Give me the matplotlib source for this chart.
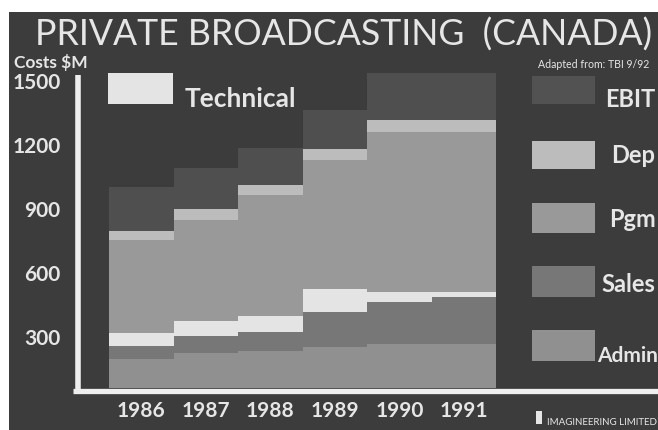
import matplotlib
matplotlib.use("Agg")
import matplotlib.pyplot as plt
from matplotlib.patches import Rectangle
from matplotlib.lines import Line2D

# ---- data (values in $M) ----
years = [1986, 1987, 1988, 1989, 1990, 1991]
admin = [193, 221, 230, 249, 263, 263]
sales = [61, 80, 90, 165, 198, 221]
technical = [61, 70, 75, 108, 47, 24]
pgm = [437, 475, 564, 602, 747, 747]
dep = [38, 47, 47, 52, 57, 57]
ebit = [207, 193, 174, 183, 221, 221]
ytick_vals = [300, 600, 900, 1200, 1500]
ytick_labels = ["300", "600", "900", "1200", "1500"]

series_names = ["Admin", "Sales", "Technical", "Pgm", "Dep", "EBIT"]
series_vals = [admin, sales, technical, pgm, dep, ebit]
colors = {"Admin": "#909090", "Sales": "#777777", "Technical": "#e4e4e4",
          "Pgm": "#999999", "Dep": "#bcbcbc", "EBIT": "#4f4f4f"}

BG = "#3c3c3c"
TXT = "#e6e6e6"
FONT = "Lato"

W, H = 658, 431
fig = plt.figure(figsize=(W / 100, H / 100), dpi=100)
fig.patch.set_facecolor("white")

def fx(px):
    return px / W

def fy(py):
    return 1 - py / H

# dark panel (behind everything)
fig.add_artist(Rectangle((fx(9), 0), 1 - fx(9), fy(13), facecolor=BG,
                         edgecolor="none", transform=fig.transFigure, zorder=-10))

ax = fig.add_axes([fx(80), fy(389), (500 - 80) / W, (389 - 60) / H])
ax.set_facecolor(BG)
ax.set_zorder(1)
for s in ax.spines.values():
    s.set_visible(False)

bottom = [0] * len(years)
for name, vals in zip(series_names, series_vals):
    ax.bar(years, vals, width=1.0, bottom=bottom, color=colors[name],
           edgecolor="none", linewidth=0, zorder=2)
    bottom = [b + v for b, v in zip(bottom, vals)]

ax.set_xlim(1985.05, 1991.56)
ax.set_ylim(56.25, 1598.4)
ax.set_yticks(ytick_vals)
ax.set_yticklabels(ytick_labels)
ax.set_xticks(years)
ax.set_xticklabels([str(y) for y in years])
ax.tick_params(axis="y", length=0, pad=14, labelcolor=TXT, labelsize=15)
ax.tick_params(axis="x", length=0, pad=9, labelcolor=TXT, labelsize=15)
for lab in ax.get_yticklabels() + ax.get_xticklabels():
    lab.set_fontfamily(FONT)
    lab.set_fontweight("bold")

# white axis lines
fig.add_artist(Line2D([fx(77.5), fx(77.5)], [fy(76), fy(394)], color="#eeeeee",
                      lw=4.0, solid_capstyle="butt", transform=fig.transFigure, zorder=5))
fig.add_artist(Line2D([fx(73), fx(658)], [fy(392), fy(392)], color="#eeeeee",
                      lw=3.8, solid_capstyle="butt", transform=fig.transFigure, zorder=5))

# title and labels
fig.text(fx(35), fy(46), "PRIVATE BROADCASTING  (CANADA)", color=TXT,
         fontsize=25.7, fontfamily=FONT, va="baseline", ha="left")
fig.text(fx(14), fy(68), "Costs $M", color=TXT, fontsize=12.5,
         fontfamily=FONT, fontweight="bold", va="baseline", ha="left")
fig.text(fx(538), fy(68), "Adapted from: TBI 9/92", color=TXT, fontsize=7.6,
         fontfamily=FONT, va="baseline", ha="left")

# legend boxes
def box(x0, y0, x1, y1, c):
    fig.add_artist(Rectangle((fx(x0), fy(y1)), fx(x1) - fx(x0), fy(y0) - fy(y1),
                             facecolor=c, edgecolor="none", transform=fig.transFigure,
                             zorder=5))

box(108, 74, 173, 105, colors["Technical"])
fig.text(fx(185), fy(107), "Technical", color=TXT, fontsize=19, fontfamily=FONT,
         fontweight="bold", va="baseline", zorder=6)

legend_right = [("EBIT", 77, 105, 605, 107, 17),
                ("Dep", 142, 170, 611, 163, 17),
                ("Pgm", 204, 234, 609, 227, 17),
                ("Sales", 267, 298, 601, 292, 17),
                ("Admin", 331, 362, 597, 362, 15)]
for name, y0, y1, tx, ty, fs in legend_right:
    box(532, y0, 595, y1, colors[name] if name != "EBIT" else "#525252")
    fig.text(fx(tx), fy(ty), name, color=TXT, fontsize=fs, fontfamily=FONT,
             fontweight="bold", va="baseline", zorder=6)

# footer
box(536, 412, 542, 425, TXT)
fig.text(fx(547), fy(425), "IMAGINEERING LIMITED", color=TXT, fontsize=7,
         fontfamily=FONT, va="baseline", zorder=6)

fig.savefig("out.png", dpi=100, facecolor=fig.get_facecolor())
